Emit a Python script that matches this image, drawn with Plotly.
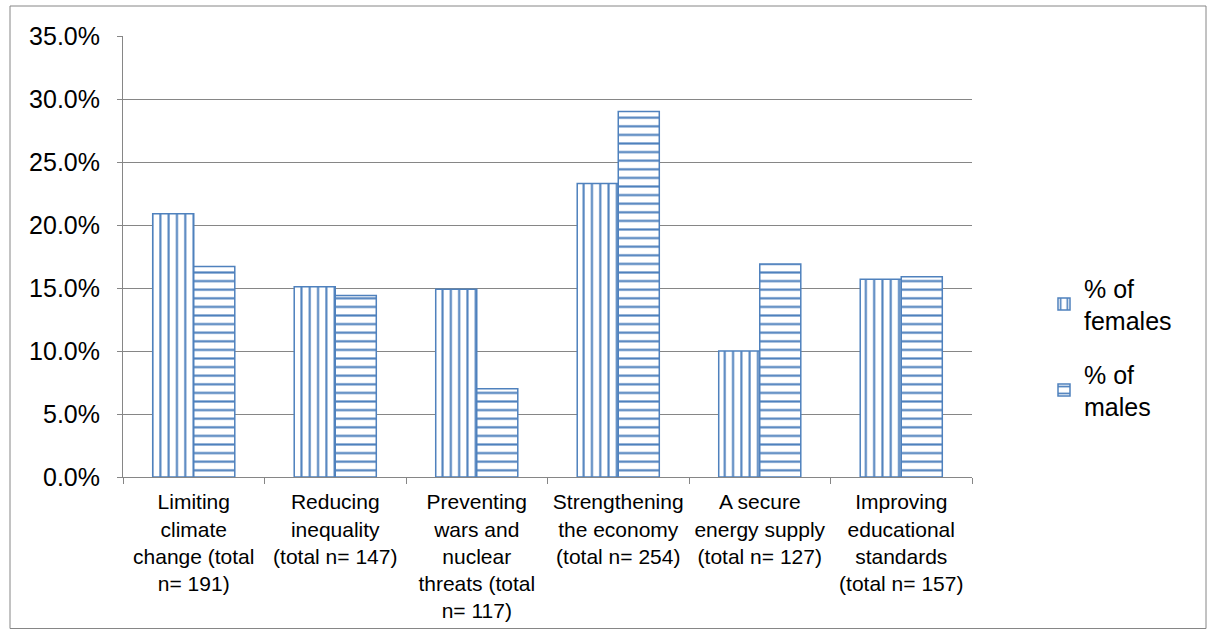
import plotly.graph_objects as go

categories = [
    "Limiting<br>climate<br>change (total<br>n= 191)",
    "Reducing<br>inequality<br>(total n= 147)",
    "Preventing<br>wars and<br>nuclear<br>threats (total<br>n= 117)",
    "Strengthening<br>the economy<br>(total n= 254)",
    "A secure<br>energy supply<br>(total n= 127)",
    "Improving<br>educational<br>standards<br>(total n= 157)",
]
females = [0.209, 0.151, 0.149, 0.233, 0.100, 0.157]
males = [0.167, 0.144, 0.070, 0.290, 0.169, 0.159]
y_ticks = [0.0, 0.05, 0.10, 0.15, 0.20, 0.25, 0.30, 0.35]

BLUE = "#4F81BD"
GRID = "#868686"
FONT = "Liberation Sans, Arial, sans-serif"

W, H = 1208, 630
L, R, T, B = 123, 972, 36, 477  # plot area in pixels


def px_x(x):
    return (x - L) / (R - L)


def px_y(y):
    return (B - y) / (B - T)


fig = go.Figure()
fig.add_trace(go.Bar(
    x=categories, y=females, name="% of<br>females", legendgroup="f",
    marker=dict(
        color="white",
        line=dict(color=BLUE, width=1.5),
        pattern=dict(shape="|", fgcolor=BLUE, bgcolor="white", size=8.3, solidity=0.25, fillmode="replace"),
    ),
))
fig.add_trace(go.Bar(
    x=categories, y=males, name="% of<br>males", legendgroup="m",
    marker=dict(
        color="white",
        line=dict(color=BLUE, width=1.5),
        pattern=dict(shape="-", fgcolor=BLUE, bgcolor="white", size=8.6, solidity=0.25, fillmode="replace"),
    ),
))

# outer chart border
fig.add_shape(
    type="rect", xref="paper", yref="paper",
    x0=px_x(10), x1=px_x(1206), y0=px_y(628.5), y1=px_y(6),
    line=dict(color=GRID, width=1), fillcolor="rgba(0,0,0,0)", layer="below",
)

fig.update_layout(
    width=W, height=H,
    margin=dict(l=L, r=W - R, t=T, b=H - B, pad=0, autoexpand=False),
    paper_bgcolor="white", plot_bgcolor="white",
    barmode="group", bargap=0.42, bargroupgap=0,
    font=dict(family=FONT, color="#000000"),
    showlegend=True,
    legend=dict(
        x=px_x(1044), y=px_y(347), xanchor="left", yanchor="middle",
        font=dict(size=25, family=FONT, color="#000000"),
        bgcolor="rgba(0,0,0,0)", itemwidth=30, tracegroupgap=18,
    ),
)
fig.update_yaxes(
    range=[0, 0.35], tickvals=y_ticks, tickformat=".1%",
    showgrid=True, gridcolor=GRID, gridwidth=1,
    showline=True, linecolor=GRID, linewidth=1,
    ticks="outside", ticklen=5, tickcolor=GRID,
    tickfont=dict(size=25, family=FONT, color="#000000"),
    ticklabelstandoff=12, zeroline=False, automargin=False,
)
fig.update_xaxes(
    showline=True, linecolor=GRID, linewidth=1,
    ticks="outside", ticklen=6, tickcolor=GRID, tickson="boundaries",
    tickfont=dict(size=21, family=FONT, color="#000000"),
    tickangle=0, showgrid=False, ticklabelstandoff=6, automargin=False,
)

fig.write_html("out.html")
